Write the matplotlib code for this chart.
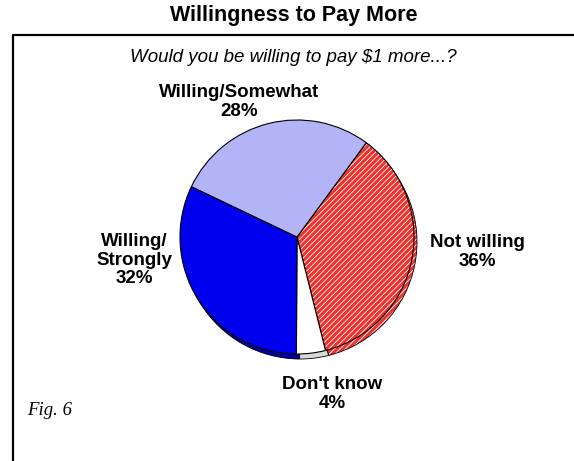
import matplotlib.pyplot as plt
from matplotlib.patches import Wedge

labels = ["Not willing\n36%", "Don't know\n4%", "Willing/\nStrongly\n32%", "Willing/Somewhat\n28%"]
values = [36, 4, 32, 28]
colors = ["#f0302a", "#ffffff", "#0000ee", "#b3b3f7"]
shadow_colors = ["#f0302a", "#d8d8d8", "#0000a0", "#9090d0"]

plt.rcParams["hatch.linewidth"] = 0.6

fig = plt.figure(figsize=(5.74, 4.61), dpi=100)
bg = fig.add_axes([0, 0, 1, 1])
bg.set_xlim(0, 574)
bg.set_ylim(461, 0)
bg.axis("off")

# frame: left and top lines only
bg.plot([12.5, 12.5, 574], [461, 35, 35], color="black", lw=1.6)

bg.text(294, 15, "Willingness to Pay More", ha="center", va="center",
        fontsize=15.5, fontweight="bold", family="Liberation Sans")
bg.text(293, 57, "Would you be willing to pay $1 more...?", ha="center", va="center",
        fontsize=13.5, style="italic", family="Liberation Sans")
bg.text(27, 410, "Fig. 6", ha="left", va="center", fontsize=13.5,
        style="italic", family="Liberation Serif")

# pie axis, centre ~ (297, 237) px, radius ~117 px
ax = fig.add_axes([(297 - 130) / 574, 1 - (237 + 130) / 461, 260 / 574, 260 / 461])
ax.set_xlim(-130, 130)
ax.set_ylim(-130, 130)
ax.set_aspect("equal")
ax.axis("off")

r = 117
start = 53.7
angles = []
a = start
for v in values:
    a2 = a - v * 3.6
    angles.append((a2, a))
    a = a2

# thin depth underneath
for i, ((t1, t2), c) in enumerate(zip(angles, shadow_colors)):
    if i == 0:
        ax.add_patch(Wedge((3, -5), r, t1, t2, facecolor=c, edgecolor="white",
                           hatch="//////", lw=0))
        ax.add_patch(Wedge((3, -5), r, t1, t2, facecolor="none", edgecolor="black", lw=0.6))
    else:
        ax.add_patch(Wedge((3, -5), r, t1, t2, facecolor=c, edgecolor="black", lw=0.6))

for i, ((t1, t2), c) in enumerate(zip(angles, colors)):
    if i == 0:
        ax.add_patch(Wedge((0, 0), r, t1, t2, facecolor=c, edgecolor="white",
                           hatch="//////", lw=0))
        ax.add_patch(Wedge((0, 0), r, t1, t2, facecolor="none", edgecolor="black", lw=0.8))
    else:
        ax.add_patch(Wedge((0, 0), r, t1, t2, facecolor=c, edgecolor="black", lw=0.8))

lab_pos = [(477, 252), (332, 394), (134, 260), (239, 102)]
for (x, y), t in zip(lab_pos, labels):
    bg.text(x, y, t, ha="center", va="center", fontsize=13.5, fontweight="bold",
            family="Liberation Sans", linespacing=1.12)

fig.savefig("out.png", dpi=100)
